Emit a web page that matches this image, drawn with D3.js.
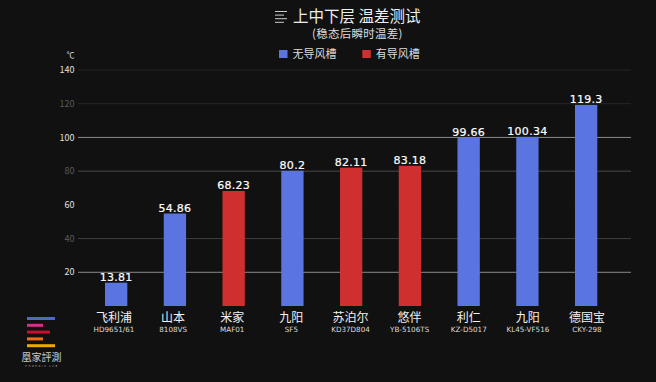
<!DOCTYPE html>
<html>
<head>
<meta charset="utf-8">
<script src="https://cdn.jsdelivr.net/npm/d3@7"></script>
<style>
html, body { margin: 0; padding: 0; background: #111112; }
text { font-family: "Noto Sans CJK SC", "Noto Sans", sans-serif; }
</style>
</head>
<body>
<div id="chart"></div>
<script>
var brands = ["飞利浦", "山本", "米家", "九阳", "苏泊尔", "悠伴", "利仁", "九阳", "德国宝"];
var models = ["HD9651/61", "8108VS", "MAF01", "SF5", "KD37D804", "YB-5106TS", "KZ-D5017", "KL45-VF516", "CKY-298"];
var temps = [13.81, 54.86, 68.23, 80.2, 82.11, 83.18, 99.66, 100.34, 119.3];
var hasGuide = [0, 0, 1, 0, 1, 1, 0, 0, 0];
var yTicks = [20, 40, 60, 80, 100, 120, 140];
var tickColors = ["#e0e0e0", "#5a5a5a", "#e0e0e0", "#5a5a5a", "#e0e0e0", "#5a5a5a", "#e0e0e0"];
var gridColors = ["#8a8a8a", "#3e3e3e", "#161616", "#4a4a4a", "#8a8a8a", "#262626", "#262626"];
var legendNames = ["无导风槽", "有导风槽"];
var logoColors = ["#4a6bc8", "#d8308a", "#c8102e", "#f06a10", "#f0a800"];
var logoLens = [28, 16, 23, 16, 28];

var blue = "#5b75e0", red = "#cf2f2f";
var margin = { top: 70, right: 25, bottom: 76, left: 78 },
    width = 656 - margin.left - margin.right,
    height = 382 - margin.top - margin.bottom;

var root = d3.select("#chart").append("svg")
    .attr("width", 656)
    .attr("height", 382);

var svg = root.append("g")
    .attr("transform", "translate(" + margin.left + "," + margin.top + ")");

var x = d3.scaleBand().domain(d3.range(temps.length)).range([27, 519.3]).paddingInner(0.62).paddingOuter(0);
// the labels sit on a slightly wider spacing than the bars
var xLabel = d3.scalePoint().domain(d3.range(temps.length)).range([36, 509]);
var y = d3.scaleLinear().domain([0, 140]).range([height, 0]);

// grid
svg.selectAll(".grid").data(yTicks).enter().append("line")
    .attr("x1", 0).attr("x2", width)
    .attr("y1", function (d) { return y(d); })
    .attr("y2", function (d) { return y(d); })
    .attr("stroke", function (d, i) { return gridColors[i]; });

// y labels
svg.selectAll(".ylab").data(yTicks).enter().append("text")
    .attr("x", -3.5).attr("y", function (d) { return y(d); })
    .attr("dy", "0.35em").attr("text-anchor", "end")
    .attr("font-size", 9)
    .attr("fill", function (d, i) { return tickColors[i]; })
    .text(function (d) { return d; });

svg.append("text").attr("x", -3.5).attr("y", -12).attr("text-anchor", "end")
    .attr("font-size", 8).attr("fill", "#ddd").text("℃");

// bars
svg.selectAll("rect").data(temps).enter().append("rect")
    .attr("x", function (d, i) { return x(i); })
    .attr("y", function (d) { return y(d); })
    .attr("width", x.bandwidth())
    .attr("height", function (d) { return height - y(d); })
    .attr("fill", function (d, i) { return hasGuide[i] ? red : blue; });

// value labels
svg.selectAll(".val").data(temps).enter().append("text")
    .attr("x", function (d, i) { return x(i) + x.bandwidth() / 2; })
    .attr("y", function (d) { return y(d) - 2; })
    .attr("text-anchor", "middle").attr("font-size", 11).attr("letter-spacing", 0.3)
    .style("font-family", "'DejaVu Sans'")
    .attr("fill", "#fff").attr("stroke", "#fff").attr("stroke-width", 0.2)
    .text(function (d) { return d; });

// category labels
svg.selectAll(".brand").data(brands).enter().append("text")
    .attr("x", function (d, i) { return xLabel(i); })
    .attr("y", height + 16)
    .attr("text-anchor", "middle").attr("font-size", 12).attr("fill", "#f2f2f2")
    .text(function (d) { return d; });
svg.selectAll(".model").data(models).enter().append("text")
    .attr("x", function (d, i) { return xLabel(i); })
    .attr("y", height + 26)
    .attr("text-anchor", "middle").attr("font-size", 7.2)
    .style("font-family", "'DejaVu Sans'")
    .attr("fill", "#dcdcdc")
    .text(function (d) { return d; });

// title
root.append("text").attr("x", 293).attr("y", 22).attr("font-size", 15.5).attr("fill", "#eee").text("上中下层 温差测试");
root.append("text").attr("x", 312).attr("y", 38).attr("font-size", 11.5).attr("letter-spacing", 0.25).attr("fill", "#ddd").text("(稳态后瞬时温差)");
[0, 1, 2, 3].forEach(function (k) {
    root.append("line").attr("x1", 275).attr("x2", k % 2 ? 284 : 287)
        .attr("y1", 11.5 + k * 3.6).attr("y2", 11.5 + k * 3.6).attr("stroke", "#ccc");
});

// legend
legendNames.forEach(function (name, i) {
    var lx = 279 + i * 83.3;
    root.append("rect").attr("x", lx).attr("y", 50).attr("width", 8.5).attr("height", 8).attr("fill", i ? red : blue);
    root.append("text").attr("x", lx + 13.5).attr("y", 58).attr("font-size", 11).attr("fill", "#ddd").text(name);
});

// logo
logoColors.forEach(function (c, i) {
    root.append("rect").attr("x", 27).attr("y", 317 + i * 6.8).attr("width", logoLens[i]).attr("height", 3).attr("fill", c);
});
root.append("text").attr("x", 41.5).attr("y", 361).attr("text-anchor", "middle").attr("font-size", 10).attr("fill", "#ccc").text("凰家評測");
root.append("text").attr("x", 42).attr("y", 367).attr("text-anchor", "middle").attr("font-size", 2.5).attr("letter-spacing", 1.6).attr("fill", "#bbb").text("PHOENIX LAB");
</script>
</body>
</html>
